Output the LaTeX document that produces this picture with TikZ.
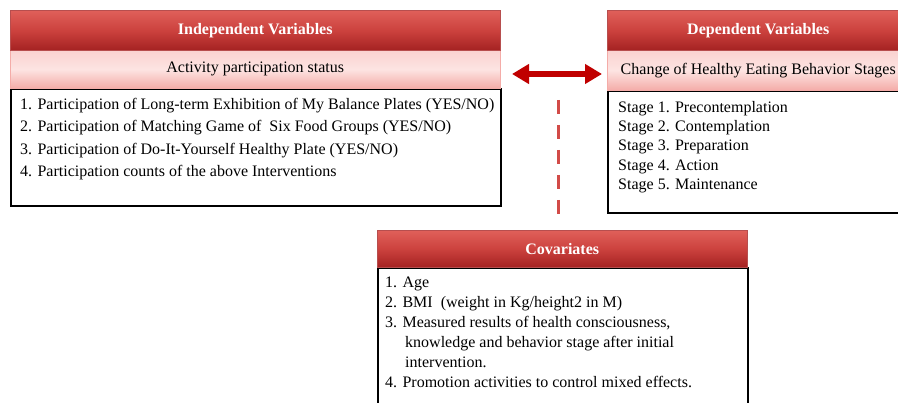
\documentclass[tikz,border=0pt]{standalone}
\usepackage{fontspec}
\setmainfont{Liberation Serif}
\usetikzlibrary{arrows.meta}
\definecolor{hdrtop}{HTML}{E0605A}
\definecolor{hdrmid}{HTML}{CC423E}
\definecolor{hdrbot}{HTML}{A52222}
\definecolor{pinktop}{HTML}{FAD2D0}
\definecolor{pinkmid}{HTML}{FDE4E2}
\definecolor{pinkbot}{HTML}{F4ACA8}
\definecolor{arrowred}{HTML}{C00000}
\definecolor{dashred}{HTML}{D24B48}
\begin{document}
\begin{tikzpicture}[x=1pt,y=-1pt,
  hdr/.style={anchor=north west, inner sep=0pt, draw=hdrbot!80, line width=0.5pt,
    top color=hdrtop, bottom color=hdrbot, middle color=hdrmid,
    text=white, font=\fontsize{16}{19}\selectfont\bfseries},
  band/.style={anchor=north west, inner sep=0pt, draw=pinkbot, line width=0.5pt,
    top color=pinktop, bottom color=pinkbot, middle color=pinkmid,
    font=\fontsize{16}{19}\selectfont},
  bodybox/.style={anchor=north west, inner sep=0pt, draw=black, line width=1.8pt, fill=white},
  listtext/.style={anchor=north west, inner sep=0pt, align=left},
  biarrow/.style={arrowred, line width=5.5pt, {Triangle[length=17pt,width=19pt]}-{Triangle[length=17pt,width=19pt]}},
  dashline/.style={dashred, line width=3pt, dash pattern=on 14pt off 11pt}
]
\useasboundingbox (0,0) rectangle (898,403);
\clip (0,0) rectangle (898,403);

% Independent variables
\node[bodybox, minimum width=490pt, minimum height=117pt] (ib) at (10,88) {};
\node[band, minimum width=490pt, minimum height=38pt] (ip) at (10,50) {Activity participation status};
\node[hdr, minimum width=490pt, minimum height=40pt] (ih) at (10,10) {Independent Variables};
\node[listtext, font=\fontsize{16}{22.3}\selectfont] (il) at (20,98) {1. Participation of Long-term Exhibition of My Balance Plates (YES/NO)\\
2. Participation of Matching Game of\ \ Six Food Groups (YES/NO)\\
3. Participation of Do-It-Yourself Healthy Plate (YES/NO)\\
4. Participation counts of the above Interventions};

% Dependent variables
\node[bodybox, minimum width=302pt, minimum height=122pt] (db) at (607,90) {};
\node[band, minimum width=302pt, minimum height=40pt] (dp) at (607,50) {Change of Healthy Eating Behavior Stages};
\node[hdr, minimum width=302pt, minimum height=40pt] (dh) at (607,10) {Dependent Variables};
\node[listtext, font=\fontsize{16}{19.3}\selectfont] (dl) at (618,101) {Stage 1. Precontemplation\\
Stage 2. Contemplation\\
Stage 3. Preparation\\
Stage 4. Action\\
Stage 5. Maintenance};

% Covariates
\node[bodybox, minimum width=370pt, minimum height=137pt] (cb) at (377,267) {};
\node[hdr, minimum width=370pt, minimum height=37pt] (ch) at (377,230) {Covariates};
\node[listtext, font=\fontsize{16}{19.9}\selectfont] (cl) at (385,277) {1. Age\\
2. BMI\ \ (weight in Kg/height2 in M)\\
3. Measured results of health consciousness,\\
\hspace*{20pt}knowledge and behavior stage after initial\\
\hspace*{20pt}intervention.\\
4. Promotion activities to control mixed effects.};

% Connectors
\coordinate (al) at (512,74);
\coordinate (ar) at (602,74);
\draw[biarrow] (al) -- (ar);
\coordinate (dtop) at (558,100);
\coordinate (dbot) at (558,215);
\draw[dashline] (dtop) -- (dbot);
\end{tikzpicture}
\end{document}
